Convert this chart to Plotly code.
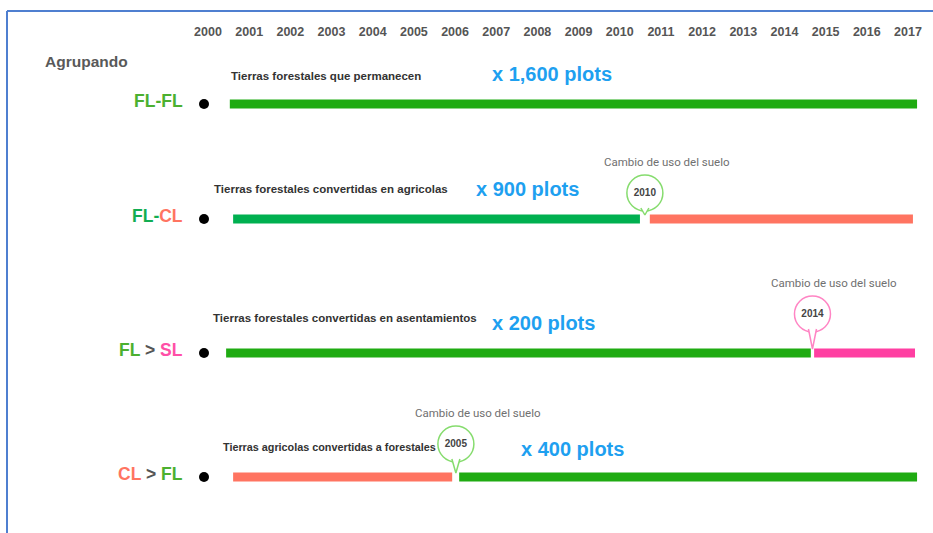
import plotly.graph_objects as go

# --- data ---
years = list(range(2000, 2018))
year_labels = [str(y) for y in years]

row_names = ['FL-FL', 'FL-CL', 'FL > SL', 'CL > FL']
descriptions = [
    'Tierras forestales que permanecen',
    'Tierras forestales convertidas en agricolas',
    'Tierras forestales convertidas en asentamientos',
    'Tierras agricolas convertidas a forestales',
]
plot_counts = ['x 1,600 plots', 'x 900 plots', 'x 200 plots', 'x 400 plots']

# bar segments (row index, start year, end year, land use)
segment_row = [0, 1, 1, 2, 2, 3, 3]
segment_start = [2000.53, 2000.61, 2010.73, 2000.44, 2014.72, 2000.61, 2006.10]
segment_end = [2017.22, 2010.49, 2017.12, 2014.64, 2017.17, 2005.93, 2017.22]
segment_use = ['FL', 'FL2', 'CL', 'FL', 'SL', 'CL', 'FL']

# land-use change markers
change_row = [1, 2, 3]
change_pos = [2010.61, 2014.68, 2006.02]
change_label = ['2010', '2014', '2005']
change_text = 'Cambio de uso del suelo'

# --- styling / layout ---
W, H = 933, 533
PX_X0, PX_X1 = 208, 908          # pixel positions of 2000 and 2017
ppy = (PX_X1 - PX_X0) / 17.0
x_min = 2000 - PX_X0 / ppy
x_max = x_min + W / ppy

row_y = [104, 219, 353, 477]
pin_y = [None, 193, 314, 444]
pin_color = ['#86dc6e', '#ff85c4', '#86dc6e']
use_colors = {'FL': '#1fab12', 'FL2': '#00b050', 'CL': '#ff7461', 'SL': '#ff3fa2'}
GREEN, SALMON, PINK, GREY = '#4cb030', '#ff7461', '#ff4fa7', '#555555'
label_html = [
    f'<span style="color:{GREEN}">FL-FL</span>',
    f'<span style="color:#12ad52">FL-</span><span style="color:{SALMON}">CL</span>',
    f'<span style="color:{GREEN}">FL</span><span style="color:{GREY}"> &gt; </span><span style="color:{PINK}">SL</span>',
    f'<span style="color:{SALMON}">CL</span><span style="color:{GREY}"> &gt; </span><span style="color:{GREEN}">FL</span>',
]
desc_pos = [(229, 76), (212, 189), (211, 318), (221, 447)]
desc_size = [11.5, 11.5, 11.5, 10.8]
count_pos = [(552, 74), (527, 189), (543, 323), (572, 449)]
SANS = 'Liberation Sans, Arial, sans-serif'

fig = go.Figure()

for r, s, e, u in zip(segment_row, segment_start, segment_end, segment_use):
    fig.add_trace(go.Bar(
        x=[e - s], base=[s], y=[row_y[r]], orientation='h', width=9,
        marker=dict(color=use_colors[u], line=dict(width=0)),
        showlegend=False, hoverinfo='skip'))

# start dots
fig.add_trace(go.Scatter(
    x=[2000 - 4 / ppy] * len(row_y), y=row_y, mode='markers',
    marker=dict(size=10, color='black'), showlegend=False, hoverinfo='skip'))

# pins
for r, p, lab, col in zip(change_row, change_pos, change_label, pin_color):
    cy = pin_y[r]
    fig.add_trace(go.Scatter(
        x=[p], y=[cy], mode='markers+text', text=[lab], textposition='middle center',
        textfont=dict(family=SANS, size=10, color='#444', weight='bold'),
        marker=dict(size=36, color='white', line=dict(color=col, width=1.5)),
        showlegend=False, hoverinfo='skip'))
    fig.add_trace(go.Scatter(
        x=[p - 4 / ppy, p, p + 4 / ppy], y=[cy + 15, row_y[r] - 4, cy + 15],
        mode='lines', fill='toself', fillcolor='white',
        line=dict(color=col, width=1.5), showlegend=False, hoverinfo='skip'))
    fig.add_annotation(x=p + 22 / ppy, y=pin_y[r] - 31, text=change_text, showarrow=False,
                       xanchor='center', yanchor='middle',
                       font=dict(family='Roboto, Arial', size=11.5, color='#707070'))

for i in range(len(row_names)):
    fig.add_annotation(x=185 / W, xref='paper', y=row_y[i] - 3, text='<b>' + label_html[i] + '</b>',
                       showarrow=False, xanchor='right', yanchor='middle',
                       font=dict(family=SANS, size=17.5))
    dx, dy = desc_pos[i]
    fig.add_annotation(x=dx / W, xref='paper', y=dy, text='<b>' + descriptions[i] + '</b>',
                       showarrow=False, xanchor='left', yanchor='middle',
                       font=dict(family=SANS, size=desc_size[i], color='#333'))
    cx, cy = count_pos[i]
    fig.add_annotation(x=cx / W, xref='paper', y=cy, text='<b>' + plot_counts[i] + '</b>',
                       showarrow=False, xanchor='center', yanchor='middle',
                       font=dict(family=SANS, size=20, color='#1ea0f0'))

fig.add_annotation(x=43 / W, xref='paper', y=61, text='<b>Agrupando</b>', showarrow=False,
                   xanchor='left', yanchor='middle',
                   font=dict(family=SANS, size=15.5, color='#595959'))

# window border (top and left)
border = '#4f7fd0'
fig.add_shape(type='line', xref='paper', yref='paper', x0=7 / W, x1=1, y0=1 - 11 / H, y1=1 - 11 / H,
              line=dict(color=border, width=2))
fig.add_shape(type='line', xref='paper', yref='paper', x0=7 / W, x1=7 / W, y0=0, y1=1 - 11 / H,
              line=dict(color=border, width=2))

fig.update_layout(
    width=W, height=H, margin=dict(l=0, r=0, t=0, b=0),
    paper_bgcolor='white', plot_bgcolor='white', barmode='overlay',
    xaxis=dict(range=[x_min, x_max], side='top', anchor='free', position=1 - 38 / H,
               tickvals=years, ticktext=year_labels, ticks='', showgrid=False,
               zeroline=False, showline=False,
               tickfont=dict(family=SANS, size=12.5, color='#555', weight='bold')),
    yaxis=dict(range=[H, 0], visible=False),
)

fig.write_html('out.html', config={'displayModeBar': False},
               post_script="document.body.style.margin='0px';")
